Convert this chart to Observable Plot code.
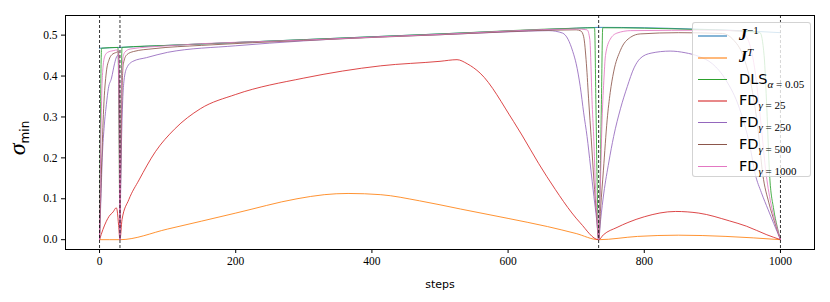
<!DOCTYPE html>
<html><head><meta charset="utf-8">
<script src="https://cdn.jsdelivr.net/npm/d3@7"></script>
<script src="https://cdn.jsdelivr.net/npm/@observablehq/plot@0.6"></script>
<style>
body{margin:0;background:#fff;}
#wrap{position:relative;width:830px;height:302px;overflow:hidden;}
.leg{position:absolute;left:692px;top:22px;width:119px;height:155px;box-sizing:border-box;border:1px solid rgba(200,200,200,0.8);border-radius:3px;background:rgba(255,255,255,0.8);}
.row{position:absolute;left:0;width:118px;height:22px;}
.sample{position:absolute;left:5px;width:29px;top:11px;}
.lab{position:absolute;left:46px;top:0;height:22px;line-height:22px;white-space:nowrap;font-family:"DejaVu Sans";font-size:14.5px;color:#000;}
.sub{font-family:"Liberation Serif";font-size:11px;position:relative;top:4px;}
.sub i{font-style:italic;}
.J{font-family:"Liberation Serif";font-weight:bold;font-style:italic;font-size:16px;}
.sup{font-family:"Liberation Serif";font-size:11px;position:relative;top:-6px;}
</style></head><body><div id="wrap"></div><script>
// x positions of singular configurations
const singularSteps = [0, 30, 733, 1000];
const xTicks = [0, 200, 400, 600, 800, 1000];
const yTicks = [0.0, 0.1, 0.2, 0.3, 0.4, 0.5];

// series: [step, sigma_min]
const Jinv = [[0,0.468],[100,0.475],[200,0.482],[300,0.489],[400,0.496],[500,0.503],[600,0.510],[700,0.517],[733,0.519],[800,0.518],[870,0.515],[940,0.511],[1000,0.506]];
const JT = [[0,0],[30,0],[100,0.026],[200,0.065],[290,0.1],[330,0.11],[365,0.113],[413,0.11],[470,0.095],[530,0.075],[600,0.052],[658,0.032],[700,0.015],[733,0],[790,0.008],[850,0.011],[920,0.008],[1000,0]];
const DLS = [[0,0],[3,0.468],[27,0.470],[28.5,0.3],[30,0],[31.5,0.3],[33,0.470],[100,0.475],[300,0.489],[500,0.503],[700,0.517],[727,0.518],[729,0.33],[731,0.12],[733,0],[735,0.12],[737,0.33],[739,0.518],[800,0.517],[870,0.514],[940,0.51],[970,0.506],[976,0.45],[980,0.32],[984,0.16],[990,0.075],[995,0.033],[1000,0]];
const FD25 = [[0,0],[5,0.025],[10,0.045],[14,0.057],[20,0.068],[24.5,0.078],[26,0.07],[28,0.035],[30,0],[33,0.049],[43,0.098],[58,0.146],[82,0.215],[110,0.27],[148,0.32],[200,0.355],[300,0.395],[413,0.425],[500,0.436],[525,0.44],[540,0.43],[559,0.407],[608,0.289],[657,0.154],[706,0.041],[733,0],[740,0.012],[760,0.03],[776,0.042],[800,0.056],[846,0.069],[880,0.065],[925,0.046],[950,0.033],[980,0.012],[1000,0]];
const FD250 = [[0,0],[2,0.1],[4,0.2],[7,0.28],[10,0.33],[13,0.37],[17.6,0.395],[22,0.43],[25,0.447],[28,0.452],[29,0.3],[30,0],[31,0.12],[32,0.22],[34,0.34],[36,0.39],[40,0.42],[49,0.436],[69,0.445],[100,0.458],[200,0.474],[300,0.486],[400,0.495],[500,0.501],[600,0.508],[660,0.511],[680,0.505],[688,0.49],[695,0.46],[700,0.43],[706,0.374],[711,0.31],[716,0.252],[721,0.18],[726,0.106],[730,0.05],[733,0],[736,0.05],[740.6,0.114],[748,0.19],[755,0.252],[765,0.32],[775,0.374],[785,0.42],[794,0.443],[810,0.456],[838,0.461],[860,0.457],[880,0.448],[900,0.43],[920,0.39],[940,0.32],[955,0.23],[963,0.16],[972,0.115],[982,0.073],[990,0.04],[1000,0]];
const FD500 = [[0,0],[3,0.18],[6,0.32],[10,0.41],[14,0.44],[18,0.452],[25,0.458],[28,0.46],[29,0.3],[30,0],[31,0.15],[33,0.36],[35,0.43],[40,0.452],[50,0.46],[80,0.467],[150,0.475],[300,0.487],[500,0.501],[700,0.513],[707,0.51],[711,0.496],[715,0.43],[718.6,0.334],[722,0.25],[726,0.146],[730,0.06],[733,0],[736,0.08],[740,0.17],[745.5,0.293],[750,0.36],[755,0.41],[765,0.463],[780,0.495],[794,0.503],[850,0.506],[915,0.504],[930,0.49],[945,0.45],[958,0.37],[967,0.27],[974,0.16],[983,0.09],[992,0.04],[1000,0]];
const FD1000 = [[0,0],[1.5,0.2],[3,0.34],[5,0.42],[8,0.45],[12,0.458],[20,0.462],[27,0.464],[28.5,0.35],[30,0],[31,0.2],[32,0.36],[34,0.44],[37,0.458],[45,0.466],[100,0.474],[300,0.488],[500,0.502],[700,0.515],[716,0.513],[720,0.49],[723.5,0.33],[726,0.24],[728,0.14],[731,0.05],[733,0],[735,0.1],[738,0.29],[741,0.40],[743,0.45],[750,0.49],[760,0.505],[780,0.511],[900,0.512],[940,0.51],[952,0.49],[962,0.42],[971,0.29],[979,0.16],[987,0.08],[994,0.035],[1000,0]];

const seriesData = [Jinv, JT, DLS, FD25, FD250, FD500, FD1000];
const seriesColors = ["#1f77b4","#ff7f0e","#2ca02c","#d62728","#9467bd","#8c564b","#e377c2"];
const legendLabels = [
  '<span class="J">J</span><span class="sup">−1</span>',
  '<span class="J">J</span><span class="sup"><i>T</i></span>',
  'DLS<span class="sub"><i>α</i> = 0.05</span>',
  'FD<span class="sub"><i>γ</i> = 25</span>',
  'FD<span class="sub"><i>γ</i> = 250</span>',
  'FD<span class="sub"><i>γ</i> = 500</span>',
  'FD<span class="sub"><i>γ</i> = 1000</span>'
];

const plot = Plot.plot({
  width: 830, height: 302,
  marginLeft: 65, marginRight: 16, marginTop: 15, marginBottom: 53,
  style: {fontFamily: "Liberation Serif", fontSize: "11.5px", color: "#000", background: "#fff"},
  x: {domain: [-50, 1050]},
  y: {domain: [-0.024, 0.548]},
  marks: [
    ...seriesData.map((d, i) => Plot.line(d, {x: p => p[0], y: p => p[1], stroke: seriesColors[i], strokeWidth: 0.85, curve: "monotone-x"})),
    Plot.ruleX(singularSteps, {stroke: "#000", strokeWidth: 0.8, strokeDasharray: "3,2"}),
    Plot.axisX({ticks: xTicks, tickSize: 4, tickPadding: 3, tickFormat: d => String(d), label: null}),
    Plot.axisY({ticks: yTicks, tickSize: 4, tickPadding: 4, tickFormat: d3.format(".1f"), label: null}),
    Plot.frame({stroke: "#000", strokeWidth: 1})
  ]
});

const wrap = d3.select("#wrap");
wrap.node().appendChild(plot);
const svg = d3.select(plot);

// axis titles
svg.append("text").attr("x", 440).attr("y", 288).attr("text-anchor", "middle")
  .attr("font-family", "DejaVu Sans").attr("font-size", 11).attr("fill", "#000").text("steps");
const yl = svg.append("text").attr("transform", "translate(25,138) rotate(-90)").attr("text-anchor", "middle").attr("fill", "#000");
yl.append("tspan").attr("font-family", "Liberation Serif").attr("font-style", "italic").attr("font-size", 24).text("σ");
yl.append("tspan").attr("font-family", "DejaVu Sans").attr("font-size", 12).attr("dy", 4).text("min");

// legend
const leg = wrap.append("div").attr("class", "leg");
legendLabels.forEach((lab, i) => {
  const row = leg.append("div").attr("class", "row").style("top", (1 + i * 21.75) + "px");
  const thick = i === 0 || i === 1 || i === 3;
  row.append("div").attr("class", "sample")
    .style("border-top", (thick ? 2 : 1.2) + "px solid " + seriesColors[i])
    .style("opacity", thick ? 0.55 : 1);
  row.append("div").attr("class", "lab").html(lab);
});
</script></body></html>
